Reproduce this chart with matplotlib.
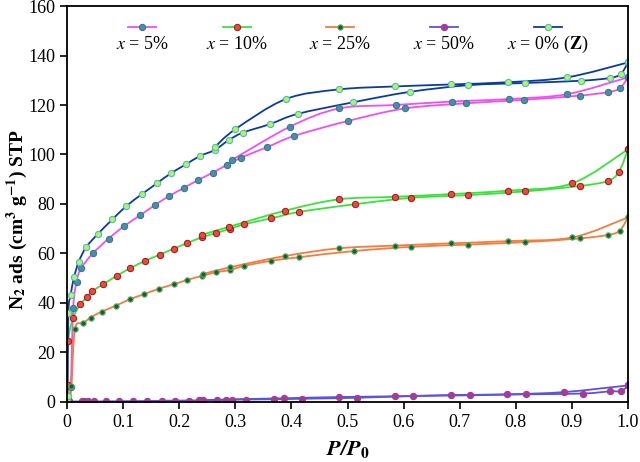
import matplotlib.pyplot as plt
from matplotlib.path import Path
from matplotlib.patches import PathPatch

plt.rcParams['font.family'] = 'Liberation Serif'
plt.rcParams['mathtext.fontset'] = 'stix'

# x = 0% (Z): adsorption and desorption branches
z_ads_p = [0.0005, 0.001, 0.0024, 0.0065, 0.0125, 0.021, 0.034, 0.055, 0.081, 0.106, 0.133, 0.16, 0.185,
           0.212, 0.237, 0.263, 0.289, 0.313, 0.362, 0.411, 0.51, 0.611, 0.715, 0.816, 0.916, 0.967, 0.987, 1.0]
z_ads_v = [1.0, 2.5, 36.1, 43.2, 50.4, 56.7, 62.5, 67.9, 73.8, 79.2, 83.9, 88.3, 92.4,
           96.0, 99.4, 101.8, 105.9, 108.8, 112.3, 116.4, 121.1, 125.3, 128.0, 128.9, 129.8, 130.9, 132.5, 137.2]
z_des_p = [1.0, 0.892, 0.786, 0.684, 0.585, 0.485, 0.39, 0.30, 0.263]
z_des_v = [137.2, 131.2, 129.2, 128.3, 127.5, 126.3, 122.4, 110.2, 102.9]

# x = 5%
m5_ads_p = [0.001, 0.0065, 0.011, 0.017, 0.025, 0.046, 0.074, 0.102, 0.13, 0.157, 0.182, 0.209, 0.234,
            0.26, 0.285, 0.31, 0.356, 0.405, 0.5, 0.602, 0.712, 0.815, 0.914, 0.964, 0.985, 1.0]
m5_ads_v = [1.0, 6.2, 37.8, 48.6, 54.0, 60.0, 66.0, 71.1, 75.4, 79.6, 83.2, 86.6, 89.7,
            92.7, 95.8, 98.7, 102.9, 107.5, 113.5, 118.6, 120.7, 122.1, 123.8, 125.2, 126.7, 131.2]
m5_des_p = [1.0, 0.892, 0.787, 0.686, 0.586, 0.485, 0.398, 0.294]
m5_des_v = [131.2, 124.4, 122.4, 121.4, 120.0, 118.6, 111.3, 97.8]

# x = 10%
m10_ads_p = [0.0005, 0.001, 0.002, 0.011, 0.024, 0.035, 0.045, 0.064, 0.089, 0.113, 0.139, 0.165, 0.19,
             0.214, 0.24, 0.266, 0.29, 0.316, 0.364, 0.414, 0.513, 0.614, 0.715, 0.816, 0.915, 0.964, 0.984, 1.0]
m10_ads_v = [1.5, 7.0, 24.6, 34.0, 39.5, 42.3, 44.7, 47.5, 51.0, 54.1, 57.0, 59.5, 61.9,
             64.2, 66.5, 68.3, 69.9, 71.8, 74.2, 76.8, 79.9, 82.5, 83.6, 85.1, 87.3, 89.3, 93.1, 102.1]
m10_des_p = [1.0, 0.9, 0.786, 0.684, 0.585, 0.485, 0.389, 0.289, 0.24]
m10_des_v = [102.1, 88.3, 85.4, 84.0, 82.9, 81.9, 77.3, 70.8, 67.5]

# x = 25%
m25_ads_p = [0.001, 0.004, 0.008, 0.014, 0.029, 0.042, 0.062, 0.087, 0.112, 0.138, 0.164, 0.19, 0.214,
             0.24, 0.265, 0.29, 0.316, 0.363, 0.414, 0.512, 0.614, 0.715, 0.816, 0.914, 0.964, 0.985, 1.0]
m25_ads_v = [0.3, 1.0, 6.5, 29.4, 31.8, 34.1, 36.5, 38.9, 41.5, 43.6, 45.8, 47.5, 49.3,
             50.9, 52.4, 53.3, 55.0, 57.0, 58.5, 61.0, 62.7, 63.6, 64.6, 66.1, 67.5, 69.2, 74.6]
m25_des_p = [1.0, 0.901, 0.786, 0.684, 0.585, 0.485, 0.389, 0.29, 0.243]
m25_des_v = [74.6, 66.5, 65.0, 64.1, 63.2, 62.1, 59.0, 54.4, 51.7]

# x = 50%
m50_ads_p = [0.001, 0.004, 0.027, 0.030, 0.037, 0.049, 0.069, 0.093, 0.118, 0.143, 0.169, 0.193, 0.218,
             0.243, 0.268, 0.294, 0.319, 0.369, 0.418, 0.517, 0.617, 0.718, 0.818, 0.919, 0.968, 0.988, 1.0]
m50_ads_v = [0.1, 0.2, 0.2, 0.2, 0.2, 0.2, 0.25, 0.3, 0.35, 0.4, 0.5, 0.55, 0.6,
             0.7, 0.8, 0.9, 1.0, 1.1, 1.3, 1.7, 2.4, 2.7, 3.1, 3.4, 4.3, 4.4, 6.7]
m50_des_p = [1.0, 0.886, 0.785, 0.684, 0.585, 0.485, 0.386, 0.283, 0.235]
m50_des_v = [6.7, 4.0, 3.1, 2.8, 2.3, 2.0, 1.5, 1.0, 0.7]

labels = [r'$\mathit{x}$ = 5%', r'$\mathit{x}$ = 10%', r'$\mathit{x}$ = 25%',
          r'$\mathit{x}$ = 50%', r'$\mathit{x}$ = 0% ($\mathbf{Z}$)']

series = [
    (m5_ads_p, m5_ads_v, m5_des_p, m5_des_v, '#f050f0', '#4a8fa8', '#3a7890', 4.5),
    (m10_ads_p, m10_ads_v, m10_des_p, m10_des_v, '#3ee03e', '#ee4a3c', '#a02020', 4.5),
    (m25_ads_p, m25_ads_v, m25_des_p, m25_des_v, '#f47c3c', '#1c5a3a', '#58b060', 3.8),
    (m50_ads_p, m50_ads_v, m50_des_p, m50_des_v, '#5a52e0', '#a23c98', '#a23c98', 4.5),
    (z_ads_p, z_ads_v, z_des_p, z_des_v, '#0b3c9c', '#b8f060', '#4cb8c8', 4.5),
]


def smooth_line(ax, xs, ys, color):
    # smoothed connector like a spreadsheet "smooth line" (Catmull-Rom as Bezier)
    n = len(xs)
    verts = [(xs[0], ys[0])]
    codes = [Path.MOVETO]
    for i in range(n - 1):
        x0, y0 = xs[max(i - 1, 0)], ys[max(i - 1, 0)]
        x1, y1 = xs[i], ys[i]
        x2, y2 = xs[i + 1], ys[i + 1]
        x3, y3 = xs[min(i + 2, n - 1)], ys[min(i + 2, n - 1)]
        c1 = (x1 + (x2 - x0) / 6, y1 + (y2 - y0) / 6)
        c2 = (x2 - (x3 - x1) / 6, y2 - (y3 - y1) / 6)
        verts += [c1, c2, (x2, y2)]
        codes += [Path.CURVE4] * 3
    ax.add_patch(PathPatch(Path(verts, codes), fill=False, edgecolor=color, lw=1.3))


fig = plt.figure(figsize=(6.4, 4.62), dpi=100)
ax = fig.add_axes([0.1047, 0.1299, 0.8766, 0.8571])

for ap, av, dp, dv, lc, mc, ec, ms in series:
    for px, vy in ((ap, av), (dp, dv)):
        smooth_line(ax, px, vy, lc)
        ax.plot(px, vy, linestyle='none', marker='o', ms=ms, mfc=mc, mec=ec, mew=0.8)

# legend: handle above label
leg_x = [0.134, 0.303, 0.487, 0.672, 0.857]
for (ap, av, dp, dv, lc, mc, ec, ms), lx, lab in zip(series, leg_x, labels):
    ax.plot([lx - 0.025, lx + 0.025], [0.947, 0.947], color=lc, lw=1.3,
            transform=ax.transAxes, clip_on=False)
    ax.plot([lx], [0.947], marker='o', ms=ms, mfc=mc, mec=ec, mew=0.8,
            transform=ax.transAxes, clip_on=False)
    ax.text(lx, 0.904, lab, transform=ax.transAxes, ha='center', va='center', fontsize=13)

ax.set_xlim(0, 1.0)
ax.set_ylim(0, 160)
ax.set_xticks([i / 10 for i in range(11)])
ax.set_xticklabels(['0'] + ['%.1f' % (i / 10) for i in range(1, 11)])
ax.set_yticks(range(0, 161, 20))
ax.tick_params(labelsize=13, width=1.2, length=5, direction='out', top=False, right=False)
for s in ax.spines.values():
    s.set_linewidth(1.3)

ax.set_xlabel(r'$\mathbfit{P/P}_\mathbf{0}$', fontsize=16, labelpad=5)
ax.set_ylabel(r'N$_\mathbf{2}$ ads (cm$^\mathbf{3}$ g$^\mathbf{-1}$) STP', fontsize=14,
              fontweight='bold')
ax.yaxis.set_label_coords(-0.066, 0.46)

fig.savefig('out.png', dpi=100)
